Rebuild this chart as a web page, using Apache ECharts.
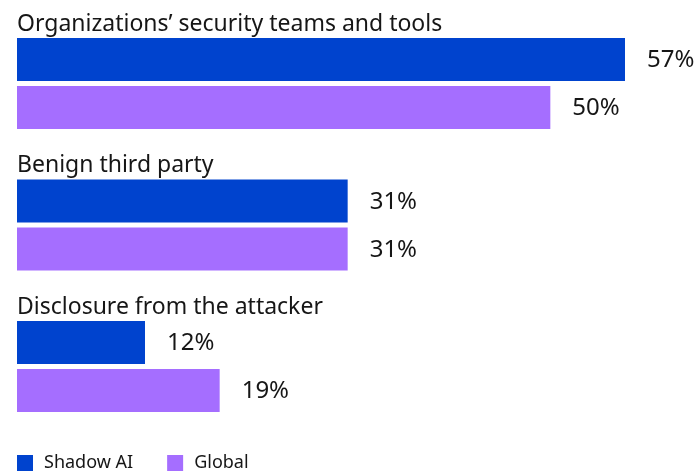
<!DOCTYPE html>
<html>
<head>
<meta charset="utf-8">
<script src="https://cdn.jsdelivr.net/npm/echarts@6/dist/echarts.min.js"></script>
<style>
  html, body { margin: 0; padding: 0; background: #fff; }
  #chart { width: 700px; height: 475px; }
</style>
</head>
<body>
<div id="chart"></div>
<script>
const categories = [
  'Organizations\u2019 security teams and tools',
  'Benign third party',
  'Disclosure from the attacker'
];
const shadowAI = [57, 31, 12];
const globalVals = [50, 31, 19];
const seriesNames = ['Shadow AI', 'Global'];

const FONT = '"Noto Sans", sans-serif';
const chart = echarts.init(document.getElementById('chart'), null, { renderer: 'canvas' });

const labelCfg = {
  show: true,
  position: 'right',
  distance: 22,
  formatter: '{c}%',
  color: '#161616',
  fontFamily: FONT,
  fontSize: 24,
  offset: [0, 1]
};

chart.setOption({
  animation: false,
  backgroundColor: '#ffffff',
  grid: { left: 17, top: 12.75, width: 640, height: 424.5, containLabel: false },
  xAxis: {
    type: 'value', min: 0, max: 60,
    show: false
  },
  yAxis: {
    type: 'category',
    data: categories,
    inverse: true,
    axisLine: { show: false },
    axisTick: { show: false },
    splitLine: { show: false },
    axisLabel: {
      inside: true,
      margin: 0,
      align: 'left',
      verticalAlign: 'bottom',
      formatter: v => '{t|' + v + '}',
      rich: {
        t: {
          fontFamily: FONT,
          fontSize: 23,
          color: '#161616',
          padding: [0, 0, 48, 0]
        }
      }
    }
  },
  legend: {
    left: 17, bottom: 3, padding: 0,
    itemWidth: 16, itemHeight: 16, itemGap: 34,
    icon: 'rect',
    textStyle: { fontFamily: FONT, fontSize: 18, color: '#161616', padding: [0, 0, 0, 6] },
    data: seriesNames
  },
  series: [
    {
      name: seriesNames[0], type: 'bar', data: shadowAI,
      barWidth: 43, barGap: '11.6%',
      itemStyle: { color: '#0043CE' },
      label: labelCfg
    },
    {
      name: seriesNames[1], type: 'bar', data: globalVals,
      barWidth: 43,
      itemStyle: { color: '#A56EFF' },
      label: labelCfg
    }
  ]
});
</script>
</body>
</html>
